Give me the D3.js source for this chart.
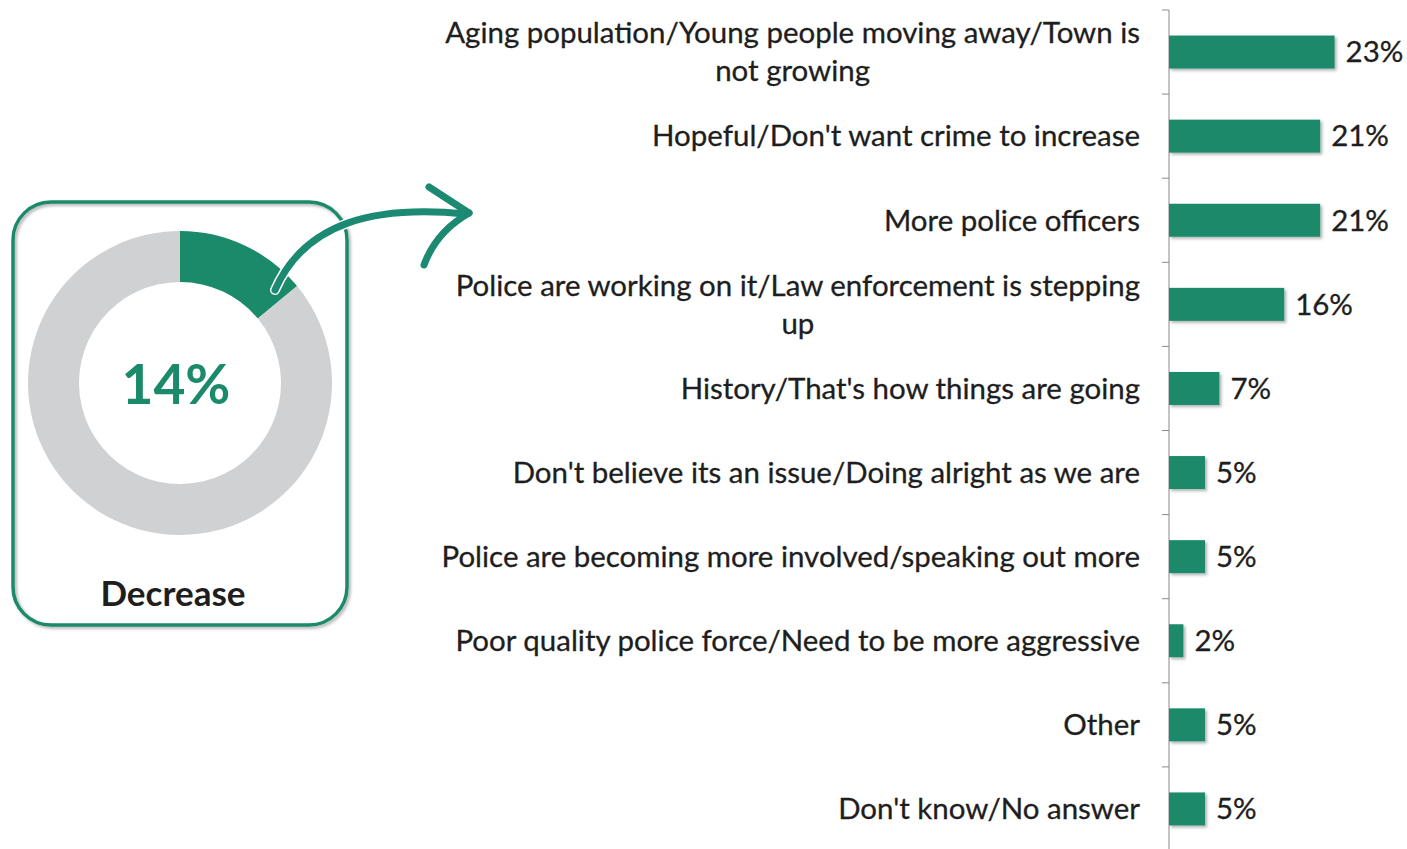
<!DOCTYPE html>
<html><head><meta charset="utf-8">
<script src="https://cdn.jsdelivr.net/npm/d3@7"></script>
<style>body{margin:0;background:#fff}svg{display:block}</style>
</head><body>
<svg id="c" width="1407" height="849"></svg>
<script>
const categories = [
  "Aging population/Young people moving away/Town is not growing",
  "Hopeful/Don't want crime to increase",
  "More police officers",
  "Police are working on it/Law enforcement is stepping up",
  "History/That's how things are going",
  "Don't believe its an issue/Doing alright as we are",
  "Police are becoming more involved/speaking out more",
  "Poor quality police force/Need to be more aggressive",
  "Other",
  "Don't know/No answer"
];
const values = [23, 21, 21, 16, 7, 5, 5, 2, 5, 5];
const donutValue = 14;
const donutLabel = "Decrease";

const GREEN = "#1b8a6b", GRAY = "#d0d1d3", TEXT = "#1e1e1e";
const FONT = "Lato, 'Open Sans', sans-serif";
const svg = d3.select("#c");

const defs = svg.append("defs");
const f = defs.append("filter").attr("id","sh").attr("x","-10%").attr("y","-20%").attr("width","130%").attr("height","160%");
f.append("feDropShadow").attr("dx",2).attr("dy",2).attr("stdDeviation",1.5).attr("flood-color","#000").attr("flood-opacity",0.3);

// calibrate font size
const probe = svg.append("text").attr("font-family",FONT).attr("font-size",26).text(categories[1]);
const w0 = probe.node().getComputedTextLength();
probe.remove();
const fs = 26 * 488 / w0;

// scales
const y = d3.scaleBand().domain(categories).range([10, 851]).paddingInner(0).paddingOuter(0);
const x = d3.scaleLinear().domain([0, 25]).range([1169, 1349]);
const barH = 33;

// axis
const axis = d3.axisLeft(y).tickSize(7).tickFormat("");
const gAxis = svg.append("g").attr("transform", `translate(${x(0)},0)`).call(axis);
gAxis.select(".domain").attr("stroke","#8a8a8a").attr("d", `M0,10V849`);
gAxis.selectAll(".tick").remove();
const bounds = categories.map((c)=> y(c)).concat([y(categories[categories.length-1]) + y.bandwidth()]);
gAxis.selectAll("line.t").data(bounds).join("line").attr("class","t")
  .attr("x1",-7).attr("x2",0).attr("y1",d=>d).attr("y2",d=>d).attr("stroke","#8a8a8a");

// bars
svg.append("g").selectAll("rect").data(categories).join("rect")
  .attr("x", x(0)).attr("y", (d)=> y(d) + y.bandwidth()/2 - barH/2)
  .attr("width", (d,i)=> x(values[i]) - x(0)).attr("height", barH)
  .attr("fill", GREEN).attr("filter","url(#sh)");

// value labels
svg.append("g").selectAll("text").data(categories).join("text")
  .attr("x", (d,i)=> x(values[i]) + 11).attr("y", d=> y(d) + y.bandwidth()/2)
  .attr("dy","0.35em").attr("font-family",FONT).attr("font-size",fs).attr("fill",TEXT)
  .attr("stroke",TEXT).attr("stroke-width",0.3)
  .text((d,i)=> values[i] + "%");

// category labels with wrapping
const labG = svg.append("g");
categories.forEach(c => {
  const words = c.split(" ");
  const lines = []; let cur = "";
  const t = labG.append("text").attr("font-family",FONT).attr("font-size",fs)
    .attr("stroke",TEXT).attr("stroke-width",0.3);
  words.forEach(w => {
    const test = cur ? cur + " " + w : w;
    t.text(test);
    if (t.node().getComputedTextLength() > 722 && cur) { lines.push(cur); cur = w; }
    else cur = test;
  });
  lines.push(cur);
  t.text(null);
  const cy = y(c) + y.bandwidth()/2;
  const lh = 38;
  if (lines.length === 1) {
    t.attr("text-anchor","end").attr("x",1140).attr("y",cy).attr("dy","0.35em").attr("fill",TEXT).text(lines[0]);
  } else {
    t.text(lines[0]);
    const w1 = t.node().getComputedTextLength();
    t.text(null);
    const cx = 1140 - w1/2;
    lines.forEach((ln,k)=>{
      t.append("tspan").attr("x",cx).attr("y", cy + (k - (lines.length-1)/2)*lh).attr("dy","0.35em")
        .attr("text-anchor","middle").attr("fill",TEXT).text(ln);
    });
  }
});

// box
svg.append("rect").attr("x",13).attr("y",202).attr("width",334).attr("height",423).attr("rx",38)
  .attr("fill","none").attr("stroke",GREEN).attr("stroke-width",3.5).attr("filter","url(#sh)");

// donut
const cx = 180, cy = 383;
const pie = d3.pie().sort(null).value(d=>d);
const arc = d3.arc().innerRadius(101).outerRadius(152);
const gD = svg.append("g").attr("transform",`translate(${cx},${cy})`);
gD.selectAll("path").data(pie([donutValue, 100-donutValue])).join("path")
  .attr("d", arc).attr("fill",(d,i)=> i===0 ? GREEN : GRAY);
gD.append("text").attr("text-anchor","middle").attr("dy","0.35em").attr("y",2).attr("x",-4)
  .attr("font-family",FONT).attr("font-weight","bold").attr("font-size",55).attr("fill",GREEN).text(donutValue + "%");
svg.append("text").attr("x",173).attr("y",606).attr("text-anchor","middle")
  .attr("font-family",FONT).attr("font-weight","bold").attr("font-size",35).attr("fill",TEXT).text(donutLabel);

// arrow
const ag = svg.append("g").attr("fill","none").attr("stroke","#1c8a72").attr("stroke-width",7).attr("stroke-linecap","round");
ag.append("path").attr("d","M275,290 C305,222 375,205 466,214").attr("stroke","#fff").attr("stroke-width",10);
ag.append("path").attr("d","M275,290 C305,222 375,205 466,214");
ag.append("path").attr("d","M429,187 L469,213");
ag.append("path").attr("d","M469,213 Q436,232 424,265");
</script>
</body></html>
